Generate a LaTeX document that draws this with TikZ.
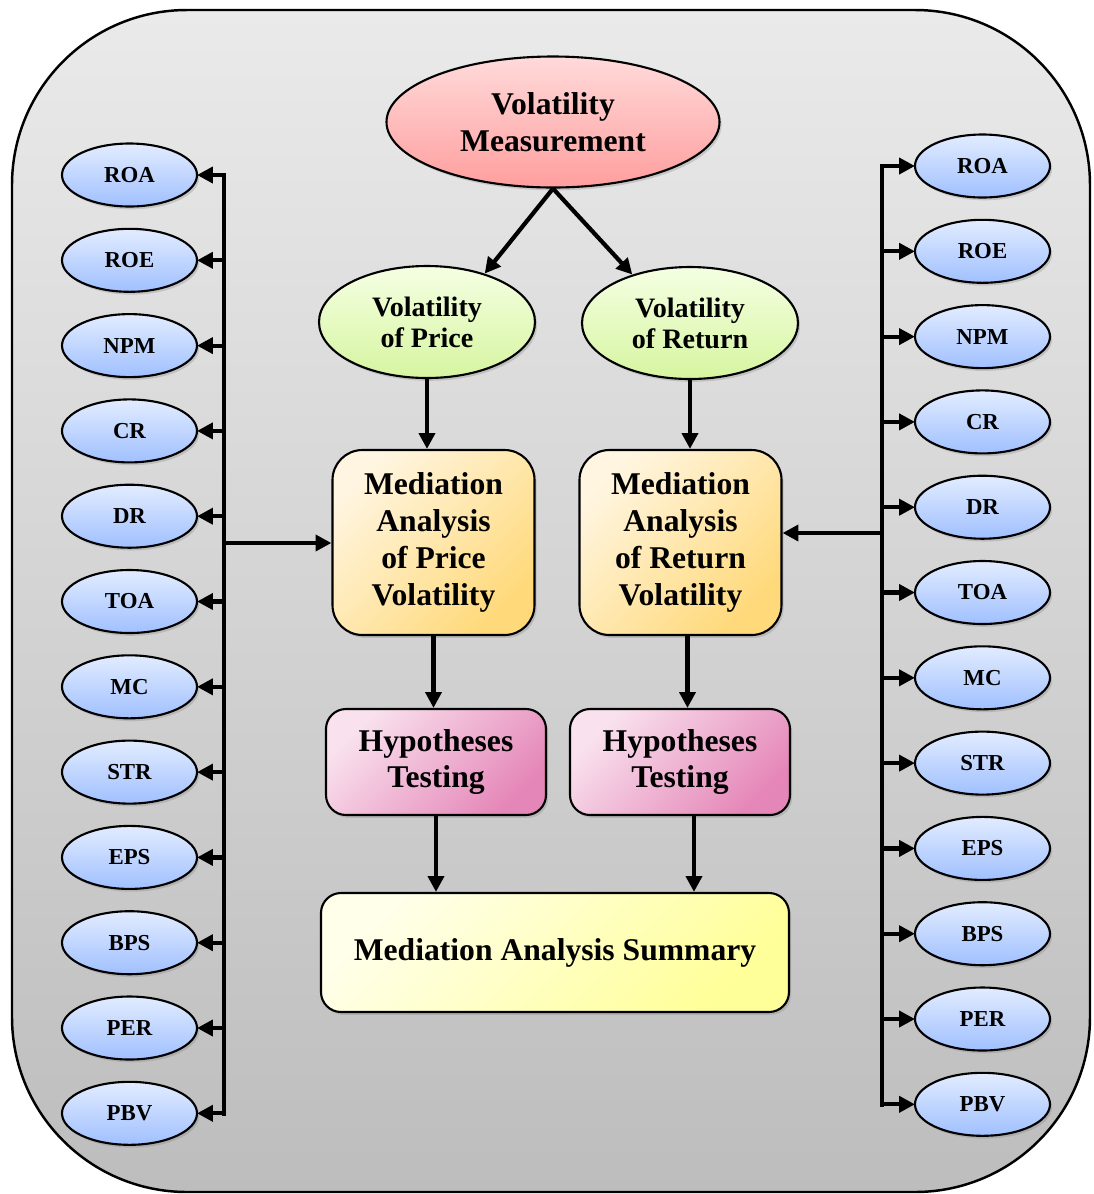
\documentclass[tikz,border=0pt]{standalone}
\usepackage{fontspec}
\setmainfont{Liberation Serif}
\usetikzlibrary{positioning, shapes.geometric, arrows.meta, shadows}

\definecolor{frameTop}{HTML}{EAEAEA}
\definecolor{frameBot}{HTML}{BDBDBD}
\definecolor{blueTop}{HTML}{E2ECFF}
\definecolor{blueBot}{HTML}{A0C0FF}
\definecolor{pinkTop}{HTML}{FFDADA}
\definecolor{pinkBot}{HTML}{FF9E9E}
\definecolor{greenTop}{HTML}{F5FFE3}
\definecolor{greenBot}{HTML}{D6F5A0}
\definecolor{orangeTop}{HTML}{FFF5E0}
\definecolor{orangeBot}{HTML}{FFD97A}
\definecolor{magTop}{HTML}{F9E2EE}
\definecolor{magBot}{HTML}{E586B8}
\definecolor{yelTop}{HTML}{FFFFEA}
\definecolor{yelBot}{HTML}{FFFF99}

\begin{document}
\begin{tikzpicture}[
	node distance=0.223cm,
	shade/.style={drop shadow={shadow xshift=0.6pt, shadow yshift=-0.8pt, opacity=0.3}},
	metric/.style={ellipse, draw, line width=0.6pt, minimum width=1.35cm, minimum height=0.63cm, inner sep=0pt, outer sep=0pt, top color=blueTop, bottom color=blueBot, shade, font=\fontsize{6.5}{7}\selectfont\bfseries},
	source/.style={ellipse, draw, line width=0.6pt, minimum width=3.33cm, minimum height=1.31cm, inner sep=0pt, align=center, top color=pinkTop, bottom color=pinkBot, shade, font=\fontsize{9}{10.5}\selectfont\bfseries},
	kind/.style={ellipse, draw, line width=0.6pt, minimum width=2.16cm, minimum height=1.12cm, inner sep=0pt, align=center, top color=greenTop, bottom color=greenBot, shade, font=\fontsize{8}{8.8}\selectfont\bfseries},
	analysis/.style={rectangle, rounded corners=0.3cm, draw, line width=0.6pt, minimum width=2.02cm, minimum height=1.85cm, align=center, top color=orangeTop, bottom color=orangeBot, shading angle=45, shade, font=\fontsize{9}{10.5}\selectfont\bfseries},
	test/.style={rectangle, rounded corners=0.2cm, draw, line width=0.6pt, minimum width=2.2cm, minimum height=1.06cm, align=center, top color=magTop, bottom color=magBot, shading angle=45, shade, font=\fontsize{9}{10.5}\selectfont\bfseries},
	summary/.style={rectangle, rounded corners=0.2cm, draw, line width=0.6pt, minimum width=4.68cm, minimum height=1.19cm, align=center, top color=yelTop, bottom color=yelBot, shading angle=45, shade, font=\fontsize{9}{10.5}\selectfont\bfseries},
	arrow/.style={-{Triangle[length=4.5pt,width=4.5pt]}, line width=1.2pt},
	bus/.style={line width=1.3pt, line cap=rect}
]
	\useasboundingbox (0,0) rectangle (10.93,-11.94);
	\draw[rounded corners=1.75cm, line width=0.7pt, top color=frameTop, bottom color=frameBot] (0.12,-0.10) rectangle (10.90,-11.92);

	% middle column
	\node[source] (vm) at (5.53,-1.22) {Volatility\\Measurement};
	\node[kind] (vp) at (4.27,-3.22) {Volatility\\of Price};
	\node[kind] (vr) at (6.90,-3.23) {Volatility\\of Return};
	\node[analysis] (map) at (4.335,-5.425) {Mediation\\Analysis\\of Price\\Volatility};
	\node[analysis] (mar) at (6.805,-5.425) {Mediation\\Analysis\\of Return\\Volatility};
	\node[test] (htp) at (4.36,-7.62) {Hypotheses\\Testing};
	\node[test] (htr) at (6.80,-7.62) {Hypotheses\\Testing};
	\node[summary] (sum) at (5.55,-9.525) {Mediation Analysis Summary};

	% left ratios
	\node[metric] (lroa) at (1.295,-1.75) {ROA};
	\node[metric, below=of lroa] (lroe) {ROE};
	\node[metric, below=of lroe] (lnpm) {NPM};
	\node[metric, below=of lnpm] (lcr) {CR};
	\node[metric, below=of lcr] (ldr) {DR};
	\node[metric, below=of ldr] (ltoa) {TOA};
	\node[metric, below=of ltoa] (lmc) {MC};
	\node[metric, below=of lmc] (lstr) {STR};
	\node[metric, below=of lstr] (leps) {EPS};
	\node[metric, below=of leps] (lbps) {BPS};
	\node[metric, below=of lbps] (lper) {PER};
	\node[metric, below=of lper] (lpbv) {PBV};

	% right ratios
	\node[metric] (rroa) at (9.825,-1.66) {ROA};
	\node[metric, below=of rroa] (rroe) {ROE};
	\node[metric, below=of rroe] (rnpm) {NPM};
	\node[metric, below=of rnpm] (rcr) {CR};
	\node[metric, below=of rcr] (rdr) {DR};
	\node[metric, below=of rdr] (rtoa) {TOA};
	\node[metric, below=of rtoa] (rmc) {MC};
	\node[metric, below=of rmc] (rstr) {STR};
	\node[metric, below=of rstr] (reps) {EPS};
	\node[metric, below=of reps] (rbps) {BPS};
	\node[metric, below=of rbps] (rper) {PER};
	\node[metric, below=of rper] (rpbv) {PBV};

	\coordinate (lbus) at (2.24,-5.43);
	\coordinate (rbus) at (8.82,-5.33);

	\draw[arrow] (vm.south) -- (vp.40);
	\draw[arrow] (vm.south) -- (vr.140);
	\draw[arrow] (vp.south) -- (vp.south |- map.north);
	\draw[arrow] (vr.south) -- (vr.south |- mar.north);
	\draw[arrow] (map.south) -- (map.south |- htp.north);
	\draw[arrow] ([xshift=0.07cm]mar.south) -- ([xshift=0.07cm]mar.south |- htr.north);
	\draw[arrow] (htp.south) -- (htp.south |- sum.north);
	\draw[arrow] ([xshift=0.14cm]htr.south) -- ([xshift=0.14cm]htr.south |- sum.north);

	\draw[bus] (lbus |- lroa) -- (lbus |- lpbv);
	\draw[arrow] (lbus) -- (lbus -| map.west);
	\draw[arrow] (lbus |- lroa) -- (lroa);
	\draw[arrow] (lbus |- lroe) -- (lroe);
	\draw[arrow] (lbus |- lnpm) -- (lnpm);
	\draw[arrow] (lbus |- lcr) -- (lcr);
	\draw[arrow] (lbus |- ldr) -- (ldr);
	\draw[arrow] (lbus |- ltoa) -- (ltoa);
	\draw[arrow] (lbus |- lmc) -- (lmc);
	\draw[arrow] (lbus |- lstr) -- (lstr);
	\draw[arrow] (lbus |- leps) -- (leps);
	\draw[arrow] (lbus |- lbps) -- (lbps);
	\draw[arrow] (lbus |- lper) -- (lper);
	\draw[arrow] (lbus |- lpbv) -- (lpbv);

	\draw[bus] (rbus |- rroa) -- (rbus |- rpbv);
	\draw[arrow] (rbus) -- (rbus -| mar.east);
	\draw[arrow] (rbus |- rroa) -- (rroa);
	\draw[arrow] (rbus |- rroe) -- (rroe);
	\draw[arrow] (rbus |- rnpm) -- (rnpm);
	\draw[arrow] (rbus |- rcr) -- (rcr);
	\draw[arrow] (rbus |- rdr) -- (rdr);
	\draw[arrow] (rbus |- rtoa) -- (rtoa);
	\draw[arrow] (rbus |- rmc) -- (rmc);
	\draw[arrow] (rbus |- rstr) -- (rstr);
	\draw[arrow] (rbus |- reps) -- (reps);
	\draw[arrow] (rbus |- rbps) -- (rbps);
	\draw[arrow] (rbus |- rper) -- (rper);
	\draw[arrow] (rbus |- rpbv) -- (rpbv);
\end{tikzpicture}
\end{document}
